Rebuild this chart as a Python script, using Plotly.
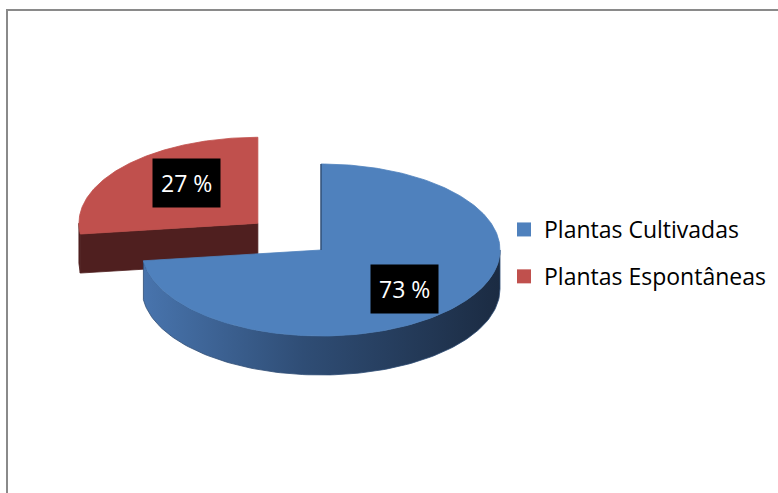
import numpy as np
import plotly.graph_objects as go

# ---- data ----
labels = ["Plantas Cultivadas", "Plantas Espontâneas"]
values = [73, 27]
label_texts = ["73 %", "27 %"]

# ---- style ----
top_colors = ["#4F81BD", "#C0504D"]
side_fill = [
    dict(type="horizontal", colorscale=[[0, "#4874AD"], [0.45, "#2F4D75"], [1, "#1B2B42"]]),
    None,
]
side_colors = ["#2F4D75", "#4F1F1F"]
pull = [0.0, 0.47]
label_fx = [0.62, 0.53]
label_fy = [0.68, 0.70]

W, H = 778, 493
CX, CY, RX, RY, DEPTH = 321, 250, 179, 86, 39
START = 90.0

fig = go.Figure()
total = float(sum(values))


def pt(theta, ox, oy, dz=0.0):
    t = np.radians(theta)
    return ox + RX * np.cos(t), oy - RY * np.sin(t) + dz


slices = []
acc = 0.0
for i, v in enumerate(values):
    hi = START - acc * 360.0 / total
    lo = hi - v * 360.0 / total
    acc += v
    mid = (hi + lo) / 2
    ox = CX + pull[i] * RX * np.cos(np.radians(mid))
    oy = CY - pull[i] * RY * np.sin(np.radians(mid))
    slices.append(dict(i=i, hi=hi, lo=lo, mid=mid, ox=ox, oy=oy))

# painter's order: farther (smaller y) first
order = sorted(slices, key=lambda s: s["oy"] - RY * np.sin(np.radians(s["mid"])))


def add_poly(xs, ys, color, grad=None):
    kw = dict(x=xs, y=ys, mode="lines", fill="toself", fillcolor=color,
              line=dict(color=color, width=0.8), showlegend=False, hoverinfo="skip")
    if grad is not None:
        kw["fillgradient"] = grad
    fig.add_trace(go.Scatter(**kw))


for s in order:
    i, hi, lo, ox, oy = s["i"], s["hi"], s["lo"], s["ox"], s["oy"]
    # radial faces
    for edge, vis in ((hi, np.cos(np.radians(hi)) < -1e-9), (lo, np.cos(np.radians(lo)) > 1e-9)):
        if vis:
            ex, ey = pt(edge, ox, oy)
            add_poly([ox, ex, ex, ox, ox], [oy, ey, ey + DEPTH, oy + DEPTH, oy], side_colors[i])
    # outer side (front half only)
    for k in range(-2, 3):
        a = max(lo, 180 + 360 * k)
        b = min(hi, 360 + 360 * k)
        if a < b:
            th = np.linspace(a, b, 120)
            xt, yt = pt(th, ox, oy)
            xb, yb = pt(th[::-1], ox, oy, DEPTH)
            xs = list(xt) + list(xb) + [xt[0]]
            ys = list(yt) + list(yb) + [yt[0]]
            add_poly(xs, ys, side_colors[i], side_fill[i])
    # top face
    th = np.linspace(lo, hi, 240)
    xt, yt = pt(th, ox, oy)
    add_poly([ox] + list(xt) + [ox], [oy] + list(yt) + [oy], top_colors[i])

# thin edge-on line at the start edge of the first slice
s0 = slices[0]
ex, ey = pt(s0["hi"], s0["ox"], s0["oy"])
fig.add_trace(go.Scatter(x=[ex, s0["ox"]], y=[ey, s0["oy"]], mode="lines",
                         line=dict(color="#2A4466", width=1.2), showlegend=False, hoverinfo="skip"))

# data labels
for s in slices:
    i = s["i"]
    lx = s["ox"] + label_fx[i] * RX * np.cos(np.radians(s["mid"]))
    ly = s["oy"] - label_fy[i] * RY * np.sin(np.radians(s["mid"]))
    fig.add_annotation(x=lx, y=ly, text=label_texts[i], showarrow=False,
                       font=dict(family="Open Sans", size=23, color="white"),
                       bgcolor="black", borderpad=8)

# legend entries
for i, name in enumerate(labels):
    fig.add_trace(go.Scatter(x=[None], y=[None], mode="markers", name=name,
                             legendgroup=str(i),
                             marker=dict(symbol="square", size=14, color=top_colors[i])))

fig.add_shape(type="rect", x0=7, y0=10, x1=W + 20, y1=H + 20,
              line=dict(color="#8A8A8A", width=2), fillcolor="rgba(0,0,0,0)", layer="above")

fig.update_layout(
    width=W, height=H, autosize=False,
    margin=dict(l=0, r=0, t=0, b=0),
    paper_bgcolor="white", plot_bgcolor="white",
    font=dict(family="Open Sans", size=23, color="black"),
    xaxis=dict(range=[0, W], visible=False, fixedrange=True),
    yaxis=dict(range=[H, 0], visible=False, fixedrange=True),
    showlegend=True,
    legend=dict(x=504 / W, y=1 - 208 / H, xanchor="left", yanchor="top",
                bgcolor="rgba(0,0,0,0)", tracegroupgap=14, traceorder="grouped",
                font=dict(family="Open Sans", size=23, color="black")),
    hovermode=False,
)

fig.write_html("out.html", post_script="document.body.style.margin='0';",
               config={"displayModeBar": False})
